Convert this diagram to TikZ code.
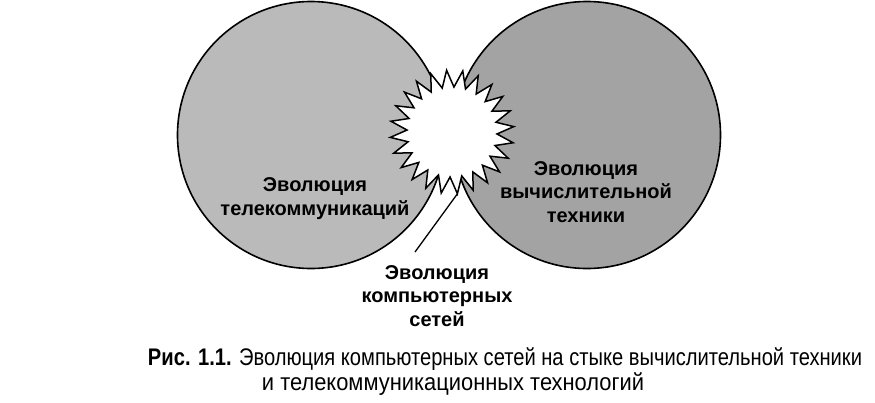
\documentclass[tikz,border=0pt]{standalone}
\usepackage{fontspec}
\setmainfont{Liberation Sans}
\usepackage{graphicx}
\begin{document}
\begin{tikzpicture}[x=1pt,y=-1pt,
  circ/.style={circle, draw=black, line width=1.6pt, inner sep=0pt, minimum size=267pt},
  lbl/.style={font=\fontsize{20}{23.5}\selectfont\bfseries, align=center, inner sep=0pt},
  captxt/.style={font=\fontsize{24}{26}\selectfont, inner sep=0pt, anchor=base},
  burst/.style={draw=black, fill=white, line width=1.5pt, line join=miter}]
\useasboundingbox (0,0) rectangle (875,402);
\fill[white] (0,0) rectangle (875,402);
\node[circ, fill=black!27] (tele) at (311,135) {};
\node[circ, fill=black!36] (comp) at (587,135) {};
\coordinate (bc) at (452,132);
\draw[burst, shift={(bc)}] (85:62) \foreach \k in {0,...,23} { -- ({85+15*\k+7.5}:45) -- ({85+15*(\k+1)}:62) } -- cycle;
\coordinate (tip) at (457.4,193.8);
\node[lbl] (tl) at (315,198.5) {Эволюция\\телекоммуникаций};
\node[lbl] (cl) at (586,192) {Эволюция\\вычислительной\\техники};
\node[lbl] (nl) at (437,296) {Эволюция\\компьютерных\\сетей};
\coordinate (lead) at (415,252);
\draw[line width=1.3pt] (lead) -- (tip);
\node[captxt] (cap1) at (505,365) {\resizebox{714pt}{\height}{\textbf{Рис. 1.1.} Эволюция компьютерных сетей на стыке вычислительной техники}};
\node[captxt] (cap2) at (453,390) {\resizebox{382pt}{\height}{и телекоммуникационных технологий}};
\end{tikzpicture}
\end{document}
